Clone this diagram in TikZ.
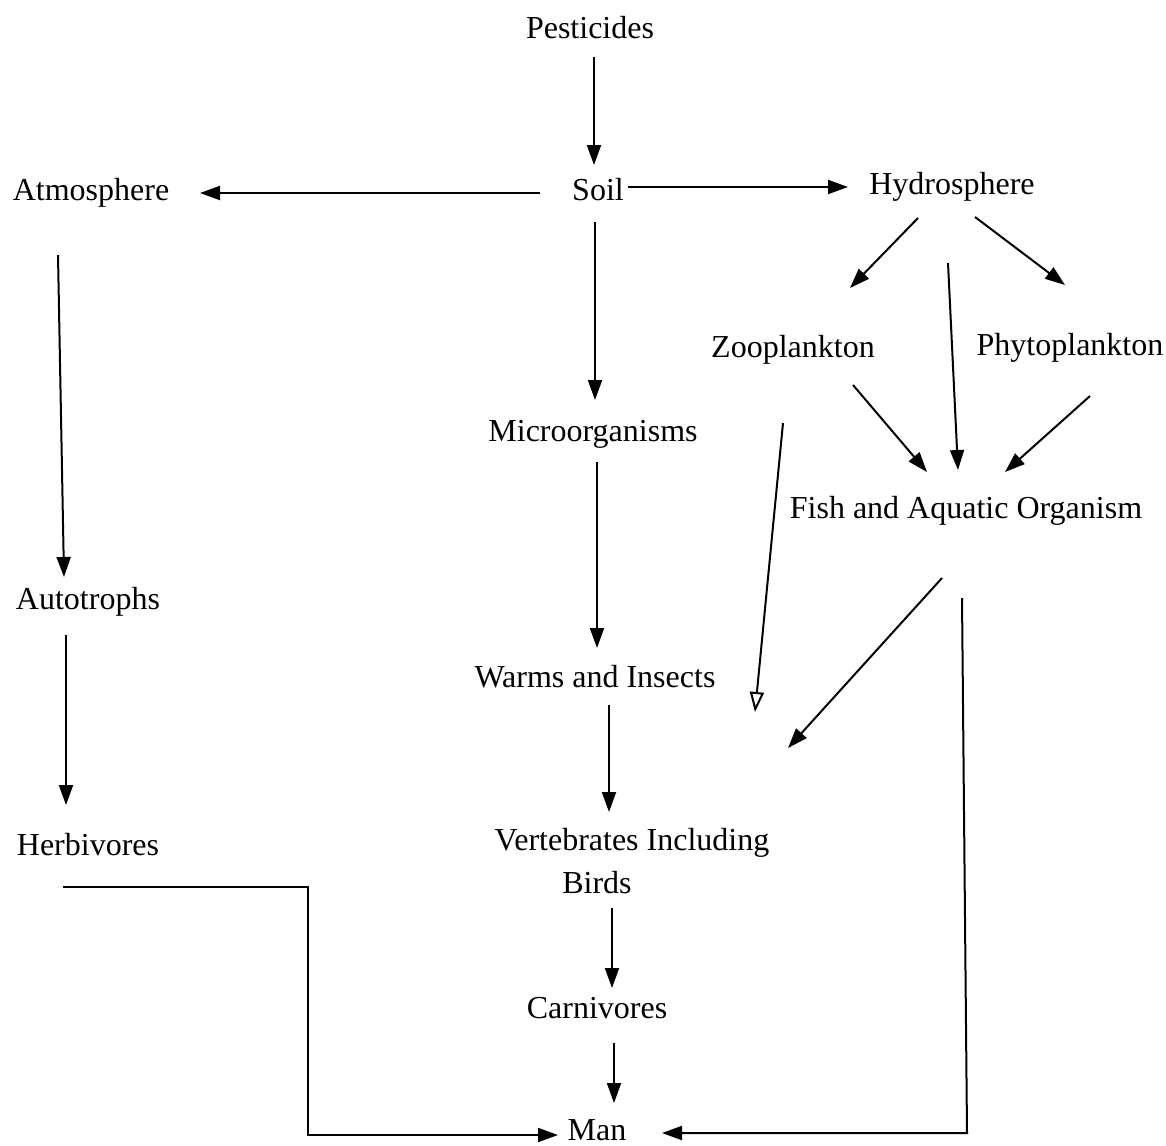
\documentclass[tikz,border=0pt]{standalone}
\usepackage{fontspec}
\setmainfont{Liberation Serif}
\usetikzlibrary{arrows.meta}
\begin{document}
\begin{tikzpicture}[x=0.5pt,y=-0.5pt,
  lbl/.style={inner sep=0pt,font=\fontsize{16}{21.5}\selectfont},
  arr/.style={line width=1pt,-{Triangle[length=10pt,width=7pt]}},
  oarr/.style={line width=1pt,-{Triangle[open,length=10pt,width=7pt]}}]
\useasboundingbox[fill=white] (0,0) rectangle (1166,1145);
% nodes
\node[lbl] (pest) at (590,28) {Pesticides};
\node[lbl] (soil) at (598,190) {Soil};
\node[lbl] (atm) at (91,193) {Atmosphere};
\node[lbl] (hyd) at (952,187) {Hydrosphere};
\node[lbl] (zoo) at (793,350) {Zooplankton};
\node[lbl] (phy) at (1070,348) {Phytoplankton};
\node[lbl] (micro) at (593,434) {Microorganisms};
\node[lbl] (fish) at (966,511) {Fish and Aquatic Organism};
\node[lbl] (auto) at (88,602) {Autotrophs};
\node[lbl] (warms) at (595,677) {Warms and Insects};
\node[lbl] (herb) at (88,845) {Herbivores};
\node[lbl,align=center] (vert) at (632,861) {Vertebrates Including\\Birds\hspace*{35pt}};
\node[lbl] (carn) at (597,1008) {Carnivores};
\node[lbl] (man) at (597,1130) {Man};
\coordinate (z1) at (755,712);
\coordinate (f1) at (788,748);
% connectors
\draw[arr] ([shift={(4,29)}]pest.center) -- ([shift={(-4,-25)}]soil.center);
\draw[arr] ([shift={(-58,3)}]soil.center) -- ([shift={(109,0)}]atm.center);
\draw[arr] ([shift={(30,-3)}]soil.center) -- ([shift={(-104,0)}]hyd.center);
\draw[arr] ([shift={(-3,32)}]soil.center) -- ([shift={(2,-34)}]micro.center);
\draw[arr] ([shift={(-33,62)}]atm.center) -- ([shift={(-24,-25)}]auto.center);
\draw[arr] ([shift={(-22,33)}]auto.center) -- ([shift={(-22,-40)}]herb.center);
\draw[arr] ([shift={(4,28)}]micro.center) -- ([shift={(2,-29)}]warms.center);
\draw[arr] ([shift={(14,28)}]warms.center) -- ([shift={(-23,-49)}]vert.center);
\draw[arr] ([shift={(-20,47)}]vert.center) -- ([shift={(15,-20)}]carn.center);
\draw[arr] ([shift={(17,35)}]carn.center) -- ([shift={(17,-27)}]man.center);
\draw[arr] ([shift={(-25,42)}]herb.center) -- ++(245,0) |- ([shift={(-39,5)}]man.center);
\draw[arr] ([shift={(-4,87)}]fish.center) -- ([shift={(370,3)}]man.center) -- ([shift={(65,3)}]man.center);
\draw[arr] ([shift={(-34,31)}]hyd.center) -- ([shift={(57,-62)}]zoo.center);
\draw[arr] ([shift={(23,30)}]hyd.center) -- ([shift={(-5,-63)}]phy.center);
\draw[arr] ([shift={(-4,76)}]hyd.center) -- ([shift={(-8,-41)}]fish.center);
\draw[arr] ([shift={(60,35)}]zoo.center) -- ([shift={(-39,-39)}]fish.center);
\draw[arr] ([shift={(20,48)}]phy.center) -- ([shift={(39,-39)}]fish.center);
\draw[oarr] ([shift={(-10,73)}]zoo.center) -- (z1);
\draw[arr] ([shift={(-24,67)}]fish.center) -- (f1);
\end{tikzpicture}
\end{document}
